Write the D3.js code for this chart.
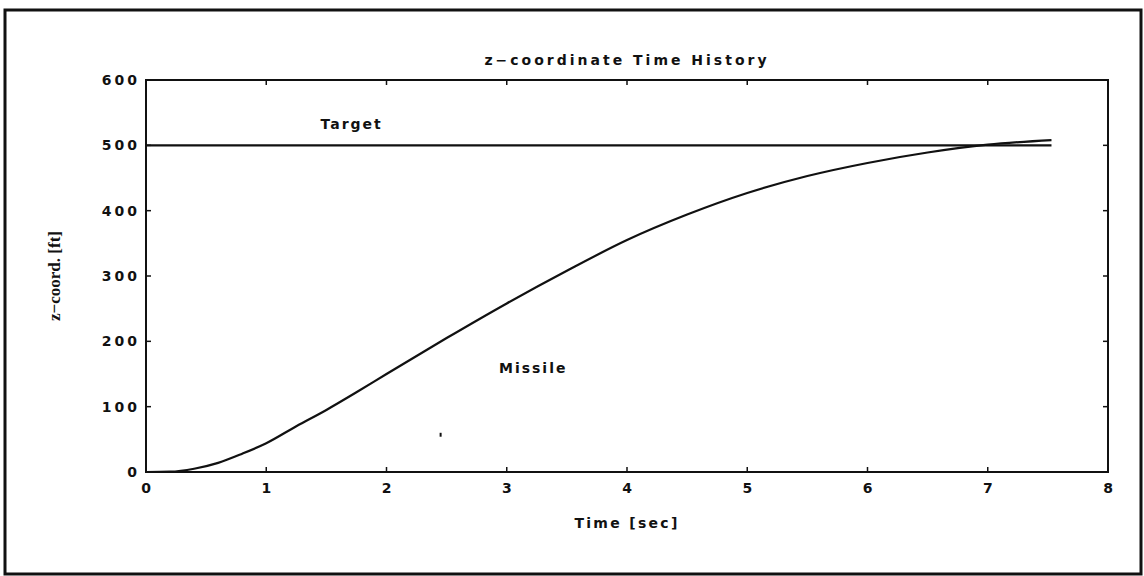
<!DOCTYPE html>
<html>
<head>
<meta charset="utf-8">
<script src="https://cdn.jsdelivr.net/npm/d3@7/dist/d3.min.js"></script>
<style>
  html, body { margin: 0; padding: 0; background: #fff; }
  svg { display: block; }
  .lbl { font-family: "DejaVu Sans", sans-serif; font-weight: bold; fill: #111; }
</style>
</head>
<body>
<svg id="chart" width="1144" height="576"></svg>
<script>
// Simulation output: missile altitude vs. time, and a constant target altitude
const timeSec   = [0, 0.2, 0.4, 0.6, 0.8, 1.0, 1.25, 1.5, 1.75, 2.0, 2.5, 3.0, 3.5, 4.0, 4.5, 5.0, 5.5, 6.0, 6.5, 7.0, 7.53];
const missileZ  = [0, 0.5, 5, 14, 28, 44, 70, 95, 122, 150, 205, 258, 308, 355, 394, 427, 453, 473, 489, 501, 508];
const targetT   = [0, 7.53];
const targetZ   = [500, 500];

const xTicks = [0, 1, 2, 3, 4, 5, 6, 7, 8];
const yTicks = [0, 100, 200, 300, 400, 500, 600];

const titleText  = "z\u2212coordinate Time History";
const xAxisTitle = "Time [sec]";
const yAxisTitle = "z\u2212coord. [ft]";

// In-plot labels, placed in data units
const seriesLabels = [
  { text: "Target",  t: 1.71, z: 525 },
  { text: "Missile", t: 3.22, z: 152 }
];

const svg = d3.select("#chart");
const m = { left: 146, right: 1108, top: 80, bottom: 472 };

const x = d3.scaleLinear().domain([0, 8]).range([m.left, m.right]);
const y = d3.scaleLinear().domain([0, 600]).range([m.bottom, m.top]);

// outer frame
svg.append("path")
  .attr("d", "M5,574 L5,10 L1141,10 L1141,574 Z")
  .attr("fill", "none").attr("stroke", "#111").attr("stroke-width", 3);

// plot box
svg.append("rect")
  .attr("x", m.left).attr("y", m.top)
  .attr("width", m.right - m.left).attr("height", m.bottom - m.top)
  .attr("fill", "none").attr("stroke", "#111").attr("stroke-width", 2);

// inward ticks on all four sides
const tickLen = 5;
const gAxes = svg.append("g").attr("stroke", "#111").attr("stroke-width", 1.5);
gAxes.selectAll(".xb").data(xTicks).join("line")
  .attr("x1", d => x(d)).attr("x2", d => x(d))
  .attr("y1", m.bottom).attr("y2", m.bottom - tickLen);
gAxes.selectAll(".xt").data(xTicks).join("line")
  .attr("x1", d => x(d)).attr("x2", d => x(d))
  .attr("y1", m.top).attr("y2", m.top + tickLen);
gAxes.selectAll(".yl").data(yTicks).join("line")
  .attr("y1", d => y(d)).attr("y2", d => y(d))
  .attr("x1", m.left).attr("x2", m.left + tickLen);
gAxes.selectAll(".yr").data(yTicks).join("line")
  .attr("y1", d => y(d)).attr("y2", d => y(d))
  .attr("x1", m.right).attr("x2", m.right - tickLen);

// tick labels
svg.selectAll(".xtl").data(xTicks).join("text")
  .attr("class", "lbl")
  .attr("x", d => x(d)).attr("y", m.bottom + 21)
  .attr("text-anchor", "middle").attr("font-size", 14)
  .text(d => d);
svg.selectAll(".ytl").data(yTicks).join("text")
  .attr("class", "lbl")
  .attr("x", m.left - 6).attr("y", d => y(d) + 5)
  .attr("text-anchor", "end").attr("font-size", 14)
  .attr("letter-spacing", 3)
  .text(d => d);

// series
const line = d3.line().x(d => x(d[0])).y(d => y(d[1]));
svg.append("path")
  .datum(targetT.map((t, i) => [t, targetZ[i]]))
  .attr("d", line).attr("fill", "none").attr("stroke", "#111").attr("stroke-width", 2.2);
svg.append("path")
  .datum(timeSec.map((t, i) => [t, missileZ[i]]))
  .attr("d", line.curve(d3.curveMonotoneX)).attr("fill", "none")
  .attr("stroke", "#111").attr("stroke-width", 2.2);

// small stray mark inside the axes
svg.append("line")
  .attr("x1", x(2.45)).attr("x2", x(2.45))
  .attr("y1", y(60)).attr("y2", y(54))
  .attr("stroke", "#111").attr("stroke-width", 2);

// series labels
svg.selectAll(".sl").data(seriesLabels).join("text")
  .attr("class", "lbl")
  .attr("x", d => x(d.t)).attr("y", d => y(d.z))
  .attr("text-anchor", "middle").attr("font-size", 14)
  .attr("letter-spacing", 2)
  .text(d => d.text);

// titles
svg.append("text").attr("class", "lbl")
  .attr("x", (m.left + m.right) / 2).attr("y", 65)
  .attr("text-anchor", "middle").attr("font-size", 14).attr("letter-spacing", 3)
  .text(titleText);
svg.append("text").attr("class", "lbl")
  .attr("x", (m.left + m.right) / 2).attr("y", 528)
  .attr("text-anchor", "middle").attr("font-size", 14).attr("letter-spacing", 2.3)
  .text(xAxisTitle);
svg.append("text")
  .attr("transform", `translate(60,${(m.top + m.bottom) / 2}) rotate(-90)`)
  .attr("text-anchor", "middle")
  .attr("font-family", "Liberation Serif, serif").attr("font-weight", "bold")
  .attr("font-size", 17).attr("fill", "#111")
  .text(yAxisTitle);
</script>
</body>
</html>
